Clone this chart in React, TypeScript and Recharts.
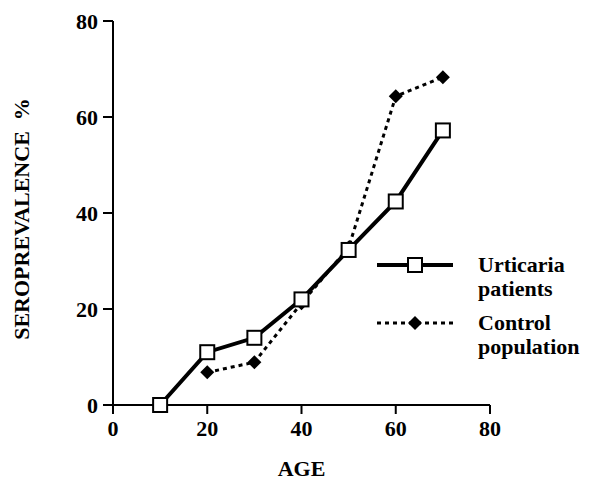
import React from 'react';
import { LineChart, Line, XAxis, YAxis, Legend } from 'recharts';

const ages = [10, 20, 30, 40, 50, 60, 70];
const urticaria = [0, 11, 14, 22, 32.3, 42.4, 57.2];
const control = [null, 6.8, 8.9, 21.2, 32.8, 64.3, 68.3];
const axisTicks = [0, 20, 40, 60, 80];
const seriesNames = ['Urticaria patients', 'Control population'];

const data = ages.map((age, i) => ({ age, urticaria: urticaria[i], control: control[i] }));

const FONT = '"Liberation Serif", "Times New Roman", serif';

const SquareDot = (props: any) => {
  const { cx, cy, index } = props;
  if (cx == null || cy == null) return <g key={`sq-${index}`} />;
  return (
    <rect key={`sq-${index}`} x={cx - 7} y={cy - 7} width={14} height={14} fill="#fff" stroke="#000" strokeWidth={2} />
  );
};

const DiamondDot = (props: any) => {
  const { cx, cy, index } = props;
  if (cx == null || cy == null) return <g key={`dm-${index}`} />;
  const r = 7;
  return (
    <polygon key={`dm-${index}`} points={`${cx},${cy - r} ${cx + r},${cy} ${cx},${cy + r} ${cx - r},${cy}`} fill="#000" />
  );
};

// rotated y-axis title, a bit below the plot centre as in the original
const YTitle = (props: any) => {
  const { viewBox } = props;
  const x = 29;
  const y = viewBox.y + viewBox.height / 2 + 6;
  return (
    <text x={x} y={y} transform={`rotate(-90, ${x}, ${y})`} textAnchor="middle" fontFamily={FONT} fontWeight="bold" fontSize={22} fill="#000">
      SEROPREVALENCE{'\u00a0\u00a0'}%
    </text>
  );
};

const LegendBox = () => {
  const textStyle: React.CSSProperties = { fontFamily: FONT, fontWeight: 'bold', fontSize: 22, lineHeight: '24px', color: '#000' };
  const [first, second] = seriesNames.map((n) => n.split(' '));
  return (
    <div style={{ width: 215 }}>
      <div style={{ display: 'flex', alignItems: 'flex-start', height: 58 }}>
        <svg width={101} height={24} style={{ flex: 'none' }}>
          <line x1={0} y1={12} x2={76} y2={12} stroke="#000" strokeWidth={4} />
          <rect x={31} y={5} width={14} height={14} fill="#fff" stroke="#000" strokeWidth={2} />
        </svg>
        <div style={textStyle}>{first[0]}<br />{first[1]}</div>
      </div>
      <div style={{ display: 'flex', alignItems: 'flex-start' }}>
        <svg width={101} height={24} style={{ flex: 'none' }}>
          <line x1={0} y1={12} x2={76} y2={12} stroke="#000" strokeWidth={3} strokeDasharray="4 4" />
          <polygon points="38,5 45,12 38,19 31,12" fill="#000" />
        </svg>
        <div style={textStyle}>{second[0]}<br />{second[1]}</div>
      </div>
    </div>
  );
};

export default function App() {
  const tickStyle = { fontFamily: FONT, fontWeight: 'bold', fontSize: 22, fill: '#000' };
  return (
    <div style={{ position: 'absolute', left: 0, top: 0, width: 590, height: 480, background: '#fff' }}>
      <LineChart width={590} height={480} data={data} margin={{ top: 21, right: 100, bottom: 0, left: 0 }}>
        <XAxis
          dataKey="age"
          type="number"
          domain={[0, 80]}
          ticks={axisTicks}
          height={75}
          stroke="#000"
          strokeWidth={2}
          tickSize={9}
          tick={tickStyle}
          tickMargin={6}
          label={{ value: 'AGE', position: 'insideBottom', offset: 4, style: tickStyle }}
        />
        <YAxis
          type="number"
          domain={[0, 80]}
          ticks={axisTicks}
          width={113}
          stroke="#000"
          strokeWidth={2}
          tickSize={10}
          tick={tickStyle}
          tickMargin={5}
          label={<YTitle />}
        />
        <Legend
          layout="vertical"
          verticalAlign="middle"
          align="center"
          wrapperStyle={{ left: 377, top: 253, width: 215 }}
          content={() => <LegendBox />}
        />
        <Line
          dataKey="control"
          name={seriesNames[1]}
          stroke="#000"
          strokeWidth={3}
          strokeDasharray="4 4"
          dot={<DiamondDot />}
          connectNulls
          isAnimationActive={false}
        />
        <Line
          dataKey="urticaria"
          name={seriesNames[0]}
          stroke="#000"
          strokeWidth={4}
          dot={<SquareDot />}
          isAnimationActive={false}
        />
      </LineChart>
    </div>
  );
}
